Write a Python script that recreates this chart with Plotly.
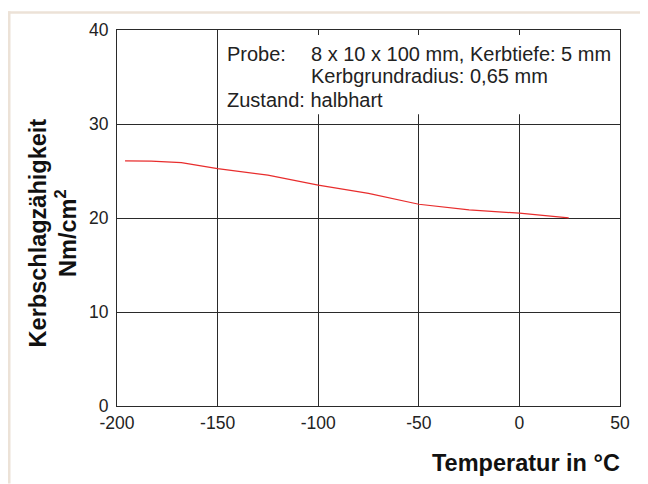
import plotly.graph_objects as go

# Data
temperature = [-196, -183, -168, -150, -125, -100, -75, -50, -25, 0, 24.5]
kerbschlag = [26.07, 26.05, 25.89, 25.26, 24.56, 23.5, 22.62, 21.46, 20.87, 20.51, 20.02]
x_ticks = [-200, -150, -100, -50, 0, 50]
y_ticks = [0, 10, 20, 30, 40]

OFF = 8  # body margin of the html page
W, H = 648 - OFF, 484 - OFF
L, R, T, B = 117 - OFF, 28, 27 - OFF, 78
PW, PH = W - L - R, H - T - B


def px(xp):
    # page pixel -> paper coordinate
    return (xp - OFF - L) / PW


def py(yp):
    return (H - B - (yp - OFF)) / PH


FONT = "Liberation Sans, Arial, sans-serif"
GRID = "#2a2a2a"

fig = go.Figure()
fig.add_trace(go.Scatter(
    x=temperature, y=kerbschlag, mode="lines",
    line=dict(color="rgb(232,45,45)", width=1.2),
    showlegend=False, hoverinfo="skip"))

fig.update_layout(
    width=W, height=H,
    margin=dict(l=L, r=R, t=T, b=B, pad=0),
    paper_bgcolor="white", plot_bgcolor="white",
    font=dict(family=FONT, size=17.5, color="#222"),
    xaxis=dict(range=[-200, 50], tickvals=x_ticks, ticktext=[str(v) for v in x_ticks],
               showgrid=True, gridcolor=GRID, gridwidth=1,
               showline=True, linecolor=GRID, linewidth=1, mirror=True,
               zeroline=False, ticks="", ticklabelstandoff=1),
    yaxis=dict(range=[0, 40], tickvals=y_ticks, ticktext=[str(v) for v in y_ticks],
               showgrid=True, gridcolor=GRID, gridwidth=1,
               showline=True, linecolor=GRID, linewidth=1, mirror=True,
               zeroline=False, ticks="", ticklabelstandoff=4),
)

shapes = [
    # white area behind the info text, hides grid lines
    dict(type="rect", xref="paper", yref="paper", x0=px(219.5), x1=px(619), y0=py(112), y1=py(32),
         fillcolor="white", line=dict(width=0), layer="above"),
    # beige frame lines at page top/left
    dict(type="rect", xref="paper", yref="paper", x0=px(8), x1=px(648), y0=py(10.5), y1=py(8),
         fillcolor="#ECE2D7", line=dict(width=0), layer="above"),
    dict(type="rect", xref="paper", yref="paper", x0=px(8), x1=px(10.5), y0=py(484), y1=py(8),
         fillcolor="#ECE2D7", line=dict(width=0), layer="above"),
]
fig.update_layout(shapes=shapes)

info_font = dict(family=FONT, size=20, color="#222")
ann = [
    dict(text="Probe:", x=px(225), y=py(51.5)),
    dict(text="8 x 10 x 100 mm, Kerbtiefe: 5 mm", x=px(309), y=py(51.5)),
    dict(text="Kerbgrundradius: 0,65 mm", x=px(309), y=py(73)),
    dict(text="Zustand: halbhart", x=px(225), y=py(98)),
]
for a in ann:
    fig.add_annotation(xref="paper", yref="paper", xanchor="left", yanchor="middle",
                       showarrow=False, font=info_font, **a)

title_font = dict(family=FONT, size=23.5, color="#111")
fig.add_annotation(xref="paper", yref="paper", x=px(53), y=py(232),
                   text="<b>Kerbschlagzähigkeit<br>Nm/cm<sup>2</sup></b>",
                   textangle=-90, showarrow=False, font=title_font,
                   xanchor="center", yanchor="middle")
fig.add_annotation(xref="paper", yref="paper", x=px(622), y=py(463),
                   text="<b>Temperatur in °C</b>", showarrow=False, font=title_font,
                   xanchor="right", yanchor="middle")

fig.write_html("out.html")
